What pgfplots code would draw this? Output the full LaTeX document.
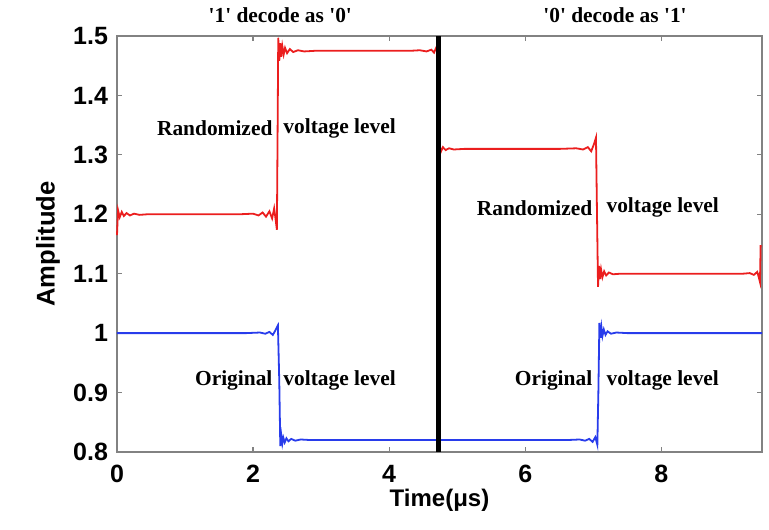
\documentclass[border=0pt]{standalone}
\usepackage{fontspec}
\setmainfont{Liberation Sans}
\newfontfamily\serifbf{Liberation Serif}
\usepackage{pgfplots}
\pgfplotsset{compat=1.18}
\definecolor{axgray}{RGB}{130,130,130}
\definecolor{mred}{RGB}{235,30,30}
\definecolor{mblue}{RGB}{40,60,235}
\begin{document}
\begin{tikzpicture}
\begin{axis}[
  scale only axis,
  width=322.5pt, height=208pt,
  xmin=0, xmax=9.48, ymin=0.8, ymax=1.5,
  xtick={0,2,4,6,8},
  ytick={0.8,0.9,1,1.1,1.2,1.3,1.4,1.5},
  axis line style={axgray, line width=0.8pt},
  tick style={axgray, line width=0.6pt},
  tick align=inside,
  major tick length=2.5pt,
  tick label style={font=\fontsize{12.5}{14}\selectfont\bfseries, black},
  xticklabel style={yshift=-3pt},
  yticklabel style={xshift=-1pt},
  /pgf/number format/assume math mode=true,
  xlabel={Time(μs)}, ylabel={Amplitude},
  label style={font=\fontsize{12}{14}\selectfont\bfseries},
  xlabel style={at={(axis description cs:0.5,-0.117)}, anchor=center},
  ylabel style={at={(axis description cs:-0.107,0.5)}, anchor=center, font=\fontsize{12.8}{14}\selectfont\bfseries},
  clip=false,
]
\addplot[mred, line width=0.9pt] coordinates {
(0,1.165) (0.015,1.207) (0.04,1.195) (0.07,1.204) (0.1,1.197) (0.14,1.202) (0.19,1.198) (0.25,1.201) (0.33,1.199) (0.45,1.2)
(0.7,1.2) (1.0,1.2) (1.4,1.2) (1.8,1.2) (2.0,1.201) (2.08,1.198) (2.14,1.203) (2.19,1.196) (2.24,1.205) (2.28,1.193) (2.31,1.21) (2.335,1.188) (2.35,1.174)
(2.36,1.33) (2.37,1.497) (2.385,1.458) (2.4,1.488) (2.415,1.465) (2.43,1.483) (2.45,1.469) (2.47,1.480) (2.5,1.471) (2.54,1.478) (2.59,1.473) (2.66,1.476) (2.75,1.474) (2.9,1.475)
(3.2,1.475) (3.6,1.475) (4.0,1.475) (4.3,1.475) (4.45,1.476) (4.55,1.474) (4.62,1.477) (4.66,1.472) (4.69,1.48) (4.71,1.485) (4.72,1.478)
(4.72,1.31) (4.74,1.318) (4.76,1.305) (4.79,1.313) (4.83,1.308) (4.88,1.311) (4.95,1.309) (5.1,1.31)
(5.5,1.31) (6.0,1.31) (6.5,1.31) (6.75,1.311) (6.85,1.309) (6.92,1.313) (6.97,1.306) (7.01,1.318) (7.04,1.329)
(7.055,1.2) (7.07,1.078) (7.085,1.113) (7.1,1.091) (7.115,1.107) (7.135,1.094) (7.16,1.104) (7.19,1.097) (7.23,1.102) (7.29,1.099) (7.4,1.1)
(7.8,1.1) (8.3,1.1) (8.8,1.1) (9.2,1.1) (9.3,1.101) (9.36,1.098) (9.41,1.103) (9.435,1.093) (9.45,1.086) (9.46,1.148)
};
\addplot[mblue, line width=0.9pt] coordinates {
(0,1.0) (0.5,1.0) (1.0,1.0) (1.5,1.0) (1.9,1.0) (2.1,1.001) (2.18,0.999) (2.24,1.002) (2.29,0.997) (2.33,1.005) (2.365,1.013)
(2.385,0.92) (2.4,0.81) (2.415,0.828) (2.43,0.814) (2.445,0.824) (2.465,0.816) (2.49,0.823) (2.52,0.818) (2.56,0.822) (2.62,0.819) (2.7,0.821) (2.85,0.82)
(3.3,0.82) (4.0,0.82) (4.7,0.82) (5.4,0.82) (6.1,0.82) (6.6,0.82) (6.8,0.821) (6.88,0.819) (6.94,0.822) (6.99,0.817) (7.03,0.825) (7.06,0.812)
(7.075,0.9) (7.09,1.017) (7.105,0.992) (7.12,1.01) (7.135,0.995) (7.155,1.006) (7.18,0.997) (7.21,1.003) (7.26,0.999) (7.34,1.001) (7.5,1.0)
(8.0,1.0) (8.5,1.0) (9.0,1.0) (9.48,1.0)
};
\addplot[black, line width=2.5pt] coordinates {(4.72,0.8) (4.72,1.5)};
\begin{scope}[every node/.style={font=\serifbf\fontsize{10.7}{12}\selectfont\bfseries, inner sep=0pt}]
\node[anchor=east] at (axis cs:2.29,1.345) {Randomized};
\node[anchor=west] at (axis cs:2.44,1.345) {voltage level};
\node[anchor=east] at (axis cs:6.99,1.211) {Randomized};
\node[anchor=west] at (axis cs:7.19,1.211) {voltage level};
\node[anchor=east] at (axis cs:2.29,0.921) {Original};
\node[anchor=west] at (axis cs:2.44,0.921) {voltage level};
\node[anchor=east] at (axis cs:6.99,0.921) {Original};
\node[anchor=west] at (axis cs:7.19,0.921) {voltage level};
\node[anchor=center, yshift=10.5pt] at (axis cs:2.4,1.5) {'1' decode as '0'};
\node[anchor=center, yshift=10.5pt] at (axis cs:7.32,1.5) {'0' decode as '1'};
\end{scope}
\end{axis}
\pgfresetboundingbox
\path ([shift={(-58.5pt,-39pt)}]current axis.south west) rectangle ([shift={(3.5pt,18pt)}]current axis.north east);
\end{tikzpicture}
\end{document}
